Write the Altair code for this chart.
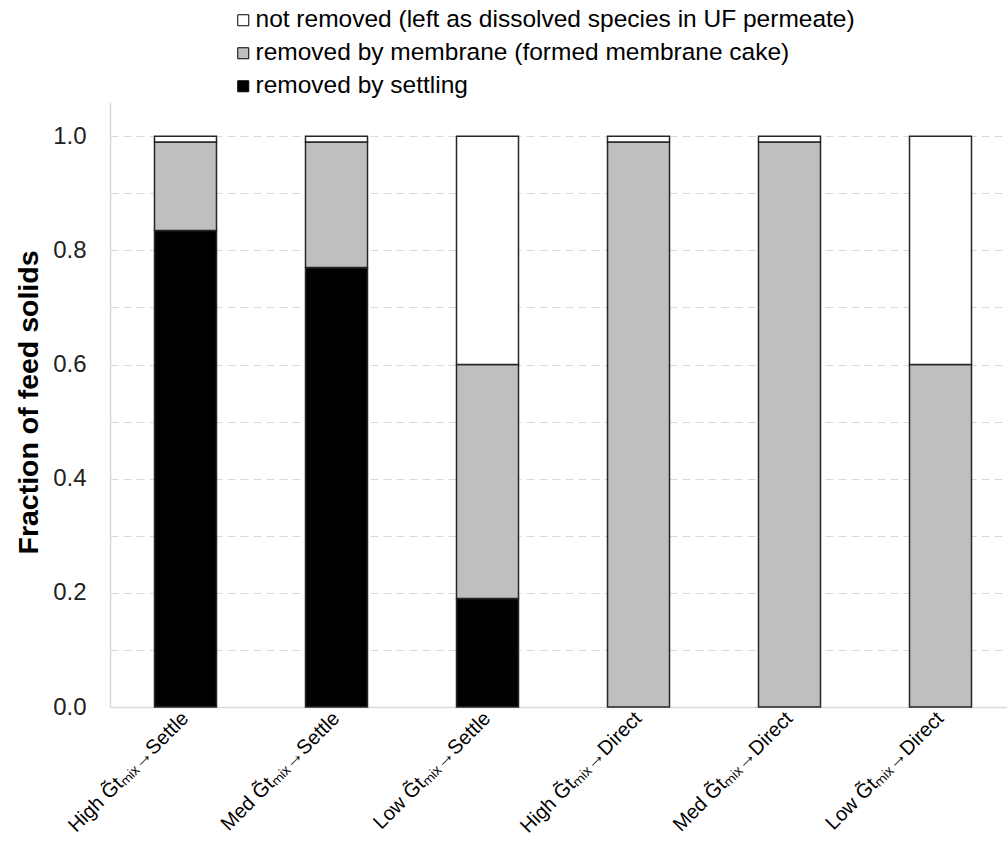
import altair as alt
import pandas as pd

categories = [
    "High G\u0303t\u2098\u1d62\u2093\u2192Settle",
    "Med G\u0303t\u2098\u1d62\u2093\u2192Settle",
    "Low G\u0303t\u2098\u1d62\u2093\u2192Settle",
    "High G\u0303t\u2098\u1d62\u2093\u2192Direct",
    "Med G\u0303t\u2098\u1d62\u2093\u2192Direct",
    "Low G\u0303t\u2098\u1d62\u2093\u2192Direct",
]
series_names = [
    "not removed (left as dissolved species in UF permeate)",
    "removed by membrane (formed membrane cake)",
    "removed by settling",
]
series_colors = ["#ffffff", "#bfbfbf", "#000000"]
settling = [0.835, 0.77, 0.19, 0.0, 0.0, 0.0]
membrane = [0.155, 0.22, 0.41, 0.99, 0.99, 0.60]
not_removed = [0.01, 0.01, 0.40, 0.01, 0.01, 0.40]
y_ticks = [0.0, 0.1, 0.2, 0.3, 0.4, 0.5, 0.6, 0.7, 0.8, 0.9, 1.0]

rows = []
for i, c in enumerate(categories):
    for order, (name, vals) in enumerate(
        [(series_names[2], settling), (series_names[1], membrane), (series_names[0], not_removed)]
    ):
        if vals[i] > 0:
            rows.append({"cat": c, "series": name, "value": vals[i], "ord": order})
df = pd.DataFrame(rows)

FONT = "Liberation Sans"

bars = (
    alt.Chart(df)
    .mark_bar(size=62, stroke="#262626", strokeWidth=1.5)
    .encode(
        x=alt.X(
            "cat:N",
            sort=categories,
            scale=alt.Scale(range=[0, 906], paddingInner=0, paddingOuter=0),
            axis=alt.Axis(
                title=None,
                labelAngle=-45,
                labelAlign="right",
                labelBaseline="middle",
                labelFontSize=20,
                labelFont=FONT,
                labelColor="#000000",
                labelPadding=8,
                ticks=False,
                domainColor="#d9d9d9",
                domainWidth=1.5,
                grid=False,
            ),
        ),
        y=alt.Y(
            "value:Q",
            stack="zero",
            scale=alt.Scale(domain=[0, 1.06], nice=False),
            axis=alt.Axis(
                title="Fraction of feed solids",
                values=y_ticks,
                labelExpr="round(datum.value*10) % 2 == 0 ? format(datum.value, '.1f') : ''",
                labelFontSize=24,
                labelFont=FONT,
                labelColor="#222222",
                labelPadding=24,
                ticks=False,
                domainColor="#d9d9d9",
                domainWidth=1.5,
                grid=True,
                gridColor="#d9d9d9",
                gridDash=[8, 5],
                gridWidth=1.2,
                titleFont=FONT,
                titleFontSize=28.5,
                titleFontWeight="bold",
                titleColor="#000000",
                titleAngle=270,
                titleAlign="center",
                titleBaseline="middle",
                titleX=-82,
                titleY=300,
            ),
        ),
        color=alt.Color(
            "series:N",
            scale=alt.Scale(domain=series_names, range=series_colors),
            legend=alt.Legend(
                title=None,
                orient="none",
                legendX=121,
                legendY=-94,
                symbolType="square",
                symbolSize=121,
                symbolStrokeColor="#000000",
                symbolStrokeWidth=1,
                labelFont=FONT,
                labelFontSize=24.5,
                labelColor="#000000",
                labelOffset=0,
                rowPadding=8,
                labelLimit=800,
            ),
        ),
        order=alt.Order("ord:Q", sort="ascending"),
    )
)

chart = (
    bars.properties(
        width=897,
        height=605,
        autosize=alt.AutoSizeParams(type="none"),
        padding={"left": 110, "top": 102, "right": 0, "bottom": 139},
        background="white",
    )
    .configure_view(stroke=None)
)

chart.save("out.html", embed_options={"renderer": "svg", "actions": False})
